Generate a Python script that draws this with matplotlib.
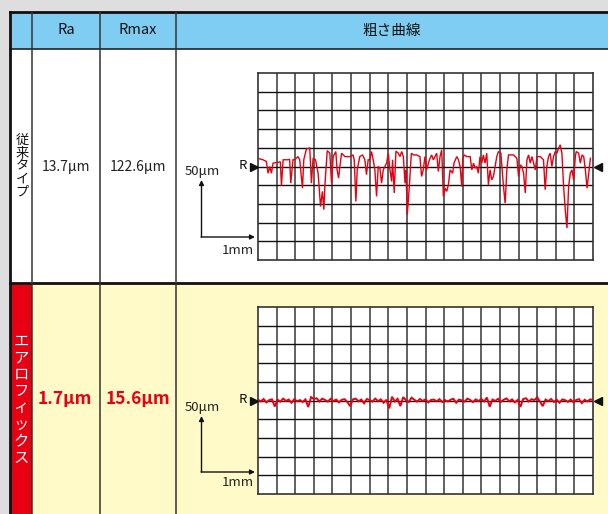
import numpy as np
import matplotlib
matplotlib.use('Agg')
import matplotlib.pyplot as plt
from matplotlib.patches import Rectangle

plt.rcParams['font.family'] = ['Noto Sans CJK JP', 'DejaVu Sans']

# ---------------- data ----------------
header_labels = ['Ra', 'Rmax', '粗さ曲線']
row_labels = ['従来タイプ', 'エアロフィックス']
ra_values = ['13.7μm', '1.7μm']
rmax_values = ['122.6μm', '15.6μm']
scale_v_label = '50μm'
scale_h_label = '1mm'

# conventional type roughness profile (x in grid divisions, y in divisions from R line)
profile1_x = [0.00, 0.27, 0.45, 0.54, 0.63, 0.72, 0.81, 0.99, 1.20, 1.26, 1.35, 1.62, 1.70, 1.76, 1.88, 1.97,
              2.15, 2.24, 2.39, 2.46, 2.60, 2.78, 2.87, 2.96, 3.09, 3.23, 3.36, 3.46, 3.54, 3.59, 3.72, 3.86,
              3.95, 4.04, 4.18, 4.25, 4.33, 4.40, 4.49, 4.67, 4.94, 5.11, 5.17, 5.26, 5.33, 5.47, 5.62, 5.74,
              5.83, 5.92, 6.01, 6.10, 6.19, 6.28, 6.37, 6.46, 6.55, 6.64, 6.73, 6.82, 6.91, 7.00, 7.09, 7.18,
              7.23, 7.32, 7.41, 7.54, 7.63, 7.72, 7.81, 7.90, 7.95, 8.02, 8.13, 8.24, 8.35, 8.52, 8.70, 8.79,
              8.88, 8.97, 9.06, 9.21, 9.33, 9.42, 9.51, 9.60, 9.69, 9.78, 9.87, 9.96, 10.05, 10.14, 10.23, 10.32,
              10.46, 10.53, 10.68, 10.77, 10.86, 10.95, 11.00, 11.07, 11.22, 11.40, 11.49, 11.58, 11.67, 11.75,
              11.84, 11.93, 12.02, 12.11, 12.20, 12.29, 12.38, 12.47, 12.56, 12.65, 12.83, 12.92, 13.05, 13.19,
              13.28, 13.37, 13.46, 13.73, 13.91, 14.00, 14.09, 14.18, 14.27, 14.36, 14.45, 14.54, 14.63, 14.72,
              14.81, 14.90, 14.99, 15.17, 15.34, 15.43, 15.52, 15.61, 15.70, 15.79, 15.88, 15.97, 16.06, 16.15,
              16.24, 16.33, 16.42, 16.51, 16.60, 16.69, 16.78, 16.87, 16.96, 17.05, 17.10, 17.23, 17.32, 17.41,
              17.50, 17.59, 17.68, 17.77, 17.86]
profile1_y = [0.43, 0.36, 0.27, -0.36, 0.00, -0.36, 0.18, 0.21, 0.25, -1.03, 0.36, 0.36, 0.39, -0.89, 0.36, 0.36,
              0.53, 0.36, -1.16, 0.36, 0.93, 1.00, -0.89, 0.44, 0.36, -0.36, -2.14, -1.33, -2.31, -1.07, 0.85, 0.71,
              -0.89, 0.53, 0.80, -0.18, -0.62, 0.00, 0.71, 0.53, 0.53, 0.62, 0.36, -1.87, -0.18, 0.53, 0.62, 0.36,
              -0.44, 0.36, 0.36, 0.80, 0.36, -0.18, -1.60, 0.00, -0.09, -0.89, -0.18, 0.00, 0.18, 0.71, -0.18, -0.80,
              0.36, -1.42, 0.82, 0.71, 0.53, 0.80, 0.53, -0.89, -0.18, -2.58, -1.07, 0.71, 0.62, 0.62, 0.53, -0.53,
              -0.18, 0.53, -0.18, 0.36, 0.62, 0.36, 0.53, 0.71, -0.27, 0.53, 0.89, -1.60, -1.16, -1.33, -0.98, -0.18,
              -0.36, 0.18, 0.53, 0.36, 0.00, -1.07, 0.36, 0.62, 0.53, 0.53, -0.18, 0.18, -0.09, 0.00,
              -0.36, 0.53, 0.18, 0.62, 0.18, 0.71, -0.98, -0.18, -0.71, -0.53, 0.53, 0.80, 0.71, -1.07,
              -1.96, -0.18, 0.62, 0.62, 0.44, -0.53, 0.09, 0.00, -0.36, -1.42, 0.36, 0.62, 0.18, 0.53,
              0.18, -0.18, 0.53, 0.53, 0.36, -1.24, 0.00, 0.53, 0.71, 0.00, 0.53, 0.80, 0.71, 0.98,
              1.16, 0.71, -1.07, -2.31, -3.29, -1.07, -0.36, -0.18, -0.71, 0.53, 0.80, 0.71, 0.18, 0.62,
              0.53, -0.18, -1.16, -0.36, 0.44]

# AEROFIX roughness profile (equally spaced samples across 18 divisions)
profile2_y = [0.05, -0.05, 0.08, -0.10, 0.02, 0.06, -0.32, 0.04, -0.06, 0.10,
              -0.02, 0.05, -0.12, 0.07, -0.04, 0.02, -0.08, 0.06, -0.35, 0.18,
              0.08, 0.12, -0.05, 0.10, 0.03, -0.06, 0.09, -0.03, 0.05, -0.10,
              0.04, 0.07, -0.08, -0.30, 0.06, 0.10, -0.04, 0.05, -0.15, 0.08,
              0.02, -0.06, 0.10, -0.03, 0.06, -0.12, 0.04, -0.42, 0.20, -0.05,
              0.09, -0.30, 0.18, 0.02, -0.08, 0.15, 0.04, -0.06, 0.08, -0.02,
              0.06, -0.10, 0.03, 0.05, -0.04, 0.07, -0.08, 0.02, -0.05, 0.04,
              0.09, -0.12, 0.05, 0.01, -0.06, 0.10, 0.03, -0.09, 0.06, -0.03,
              0.08, -0.05, 0.16, -0.33, 0.05, -0.02, 0.09, -0.07, 0.04, 0.11,
              -0.04, 0.06, -0.10, 0.03, -0.34, 0.08, 0.12, -0.05, 0.07, 0.02,
              0.17, -0.06, -0.30, 0.05, -0.03, 0.08, -0.08, 0.04, -0.12, 0.06,
              0.02, -0.07, 0.05, -0.10, 0.03, 0.07, -0.14, 0.04, -0.05, 0.06, 0.02]
profile2_x = np.linspace(0, 18, len(profile2_y))

# ---------------- styling ----------------
W, H = 608, 514
GRAY = '#dedede'
BLUE = '#7fcdf3'
YELLOW = '#fffac8'
RED = '#e60012'

fig = plt.figure(figsize=(W / 100, H / 100), dpi=100)
fig.patch.set_facecolor(GRAY)

bg = fig.add_axes([0, 0, 1, 1])
bg.set_xlim(0, W)
bg.set_ylim(H, 0)
bg.axis('off')

# table layout (pixels)
x_left, x_c1, x_c2, x_c3, x_right = 10, 32, 100, 176, W
y_top, y_h, y_r1, y_bot = 12, 49, 283, H

bg.add_patch(Rectangle((x_left, y_top), x_right - x_left, y_h - y_top, color=BLUE, lw=0))
bg.add_patch(Rectangle((x_left, y_h), x_right - x_left, y_r1 - y_h, color='white', lw=0))
bg.add_patch(Rectangle((x_left, y_r1), x_right - x_left, y_bot - y_r1, color=YELLOW, lw=0))
bg.add_patch(Rectangle((x_left, y_r1), x_c1 - x_left, y_bot - y_r1, color=RED, lw=0))

# borders
bg.plot([x_left, x_right], [y_top, y_top], color='#111111', lw=2)
bg.plot([x_left, x_right], [y_h, y_h], color='#222222', lw=1.2)
bg.plot([x_left, x_right], [y_r1, y_r1], color='#111111', lw=2)
bg.plot([x_left, x_left], [y_top, y_bot], color='#111111', lw=2)
for xc in (x_c1, x_c2, x_c3):
    bg.plot([xc, xc], [y_top, y_bot], color='#333333', lw=1.1)

# header
hy = (y_top + y_h) / 2
bg.text((x_c1 + x_c2) / 2, hy, header_labels[0], ha='center', va='center', fontsize=10.5, color='#111111')
bg.text((x_c2 + x_c3) / 2, hy, header_labels[1], ha='center', va='center', fontsize=10.5, color='#111111')
bg.text((x_c3 + 608) / 2, hy, header_labels[2], ha='center', va='center', fontsize=10.5, color='#111111')

# row labels (vertical writing, stacked upright characters)
r1c = (y_h + y_r1) / 2
r2c = (y_r1 + y_bot) / 2 + 1
bg.text(22, r1c, '\n'.join(row_labels[0]), ha='center', va='center', fontsize=9.5,
        linespacing=1.0, color='#111111')
bg.text(21, r2c, '\n'.join(row_labels[1]), ha='center', va='center', fontsize=11,
        linespacing=0.98, color='white')

# values
bg.text((x_c1 + x_c2) / 2, r1c + 1, ra_values[0], ha='center', va='center', fontsize=10, color='#222222')
bg.text((x_c2 + x_c3) / 2, r1c + 1, rmax_values[0], ha='center', va='center', fontsize=10, color='#222222')
bg.text((x_c1 + x_c2) / 2 - 1, 399, ra_values[1], ha='center', va='center', fontsize=12.5,
        fontweight='bold', color=RED)
bg.text((x_c2 + x_c3) / 2, 399, rmax_values[1], ha='center', va='center', fontsize=12.5,
        fontweight='bold', color=RED)

# scale bars
for (ty, yb, ly) in [(172, 237, 251), (408, 472, 483)]:
    bg.text(202, ty, scale_v_label, ha='center', va='center', fontsize=9.5, color='#222222')
    bg.annotate('', xy=(201.5, ty + 8), xytext=(201.5, yb),
                arrowprops=dict(arrowstyle='-|>', color='#111111', lw=1, mutation_scale=7,
                                shrinkA=0, shrinkB=0))
    bg.annotate('', xy=(255, yb), xytext=(201, yb),
                arrowprops=dict(arrowstyle='-|>', color='#111111', lw=1, mutation_scale=7,
                                shrinkA=0, shrinkB=0))
    bg.text(238, ly, scale_h_label, ha='center', va='center', fontsize=9.5, color='#222222')


def profile_axes(top_px, xs, ys, lw):
    ax = fig.add_axes([258 / W, 1 - (top_px + 187) / H, 335 / W, 187 / H])
    ax.set_facecolor('white')
    ax.set_xlim(0, 18)
    ax.set_ylim(-5, 5)
    for v in range(1, 18):
        ax.axvline(v, color='#555555', lw=1.3, zorder=1)
    for h in range(-4, 5):
        ax.axhline(h, color='#111111', lw=1.0, zorder=1)
    ax.set_xticks([])
    ax.set_yticks([])
    for s in ax.spines.values():
        s.set_color('#333333')
        s.set_linewidth(1.2)
    ax.plot(xs, ys, color=RED, lw=lw, zorder=3, solid_joinstyle='miter')
    ax.plot([-0.24], [0], marker='>', color='#111111', ms=6, clip_on=False, zorder=4)
    ax.plot([18.26], [0], marker='<', color='#111111', ms=6, clip_on=False, zorder=4)
    ax.text(-0.6, 0.05, 'R', ha='right', va='center', fontsize=9.5, color='#111111')
    return ax


profile_axes(73, profile1_x, profile1_y, 1.0)
profile_axes(307, profile2_x, profile2_y, 1.4)

fig.savefig('out.png', dpi=100, facecolor=fig.get_facecolor())
